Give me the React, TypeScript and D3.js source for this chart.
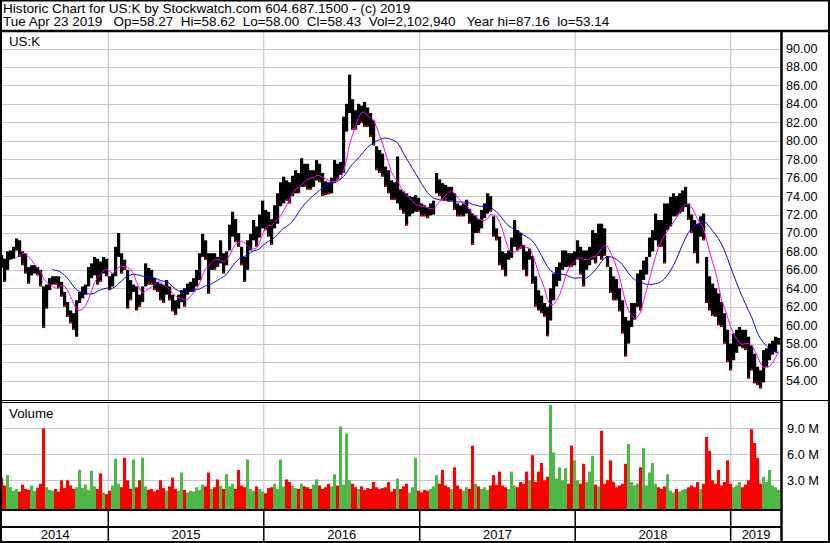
import React from "react";
import * as d3 from "d3";

// ---- data (approx. 3-px bins ≈ one trading week each) ----
const HIGH = [
  67.6, 67.2, 68.0, 68.1, 68.5, 69.4, 69.2, 68.0, 67.8, 66.3,
  66.5, 66.5, 66.3, 66.0, 64.2, 64.4, 65.1, 65.3, 65.3, 65.3,
  64.7, 63.6, 62.5, 61.6, 61.3, 62.7, 63.6, 64.2, 64.4, 66.3,
  66.7, 67.4, 67.2, 66.9, 67.4, 67.2, 65.3, 65.6, 68.5, 70.0,
  67.8, 67.1, 66.0, 64.9, 64.4, 64.2, 63.3, 64.2, 66.7, 66.2,
  66.0, 65.1, 64.7, 64.5, 64.4, 64.9, 64.2, 63.3, 62.7, 63.3,
  63.8, 64.0, 64.5, 64.7, 65.1, 66.0, 67.8, 69.9, 69.2, 67.8,
  67.8, 67.8, 67.4, 69.2, 67.8, 68.0, 70.9, 72.3, 71.5, 70.0,
  68.5, 67.4, 69.2, 69.9, 71.4, 70.7, 72.0, 73.5, 72.5, 72.3,
  71.5, 73.0, 74.3, 75.5, 76.1, 75.7, 75.5, 76.2, 76.8, 76.5,
  78.1, 77.5, 77.5, 76.8, 76.8, 77.9, 77.5, 76.5, 75.6, 75.5,
  76.0, 77.9, 77.5, 77.7, 82.6, 84.0, 87.16, 84.5, 83.3, 84.0,
  83.8, 84.2, 83.6, 83.0, 82.2, 79.4, 79.0, 78.6, 77.2, 76.8,
  75.7, 75.5, 78.3, 74.7, 74.5, 74.3, 74.0, 73.9, 74.1, 73.8,
  73.2, 73.0, 72.8, 73.2, 73.5, 76.5, 75.8, 75.4, 75.2, 75.0,
  75.0, 74.3, 73.2, 73.0, 73.2, 73.6, 72.6, 72.1, 71.9, 71.5,
  72.5, 73.2, 74.3, 74.0, 71.8, 70.5, 69.6, 68.0, 67.8, 68.1,
  69.5, 71.4, 70.3, 70.0, 68.7, 68.0, 68.3, 67.5, 65.3, 63.8,
  63.2, 62.4, 62.0, 64.0, 65.6, 66.3, 66.8, 68.1, 68.1, 67.8,
  67.8, 68.0, 69.2, 68.5, 68.1, 68.1, 68.5, 70.3, 70.0, 71.0,
  71.0, 70.5, 67.5, 66.3, 65.3, 65.0, 64.0, 62.7, 60.9, 60.5,
  62.4, 62.4, 65.6, 66.0, 67.0, 67.4, 69.5, 70.3, 72.1, 71.4,
  71.4, 73.2, 73.2, 73.9, 74.3, 74.0, 74.3, 74.6, 75.0, 73.2,
  72.0, 71.4, 71.0, 71.8, 72.1, 67.4, 65.3, 64.5, 64.0, 63.45,
  62.5, 61.3, 59.5, 58.0, 59.1, 59.5, 59.8, 59.5, 59.5, 58.75,
  57.8, 56.9, 55.5, 55.1, 57.3, 57.5, 58.0, 58.3, 58.75, 58.62,
];
const LOW = [
  66.2, 64.7, 66.0, 67.1, 67.2, 68.1, 67.4, 66.5, 65.6, 64.5,
  65.4, 65.6, 65.4, 64.2, 59.7, 61.8, 63.8, 64.4, 64.4, 64.0,
  63.1, 62.0, 60.9, 60.2, 59.5, 58.75, 62.4, 62.9, 63.3, 64.2,
  65.1, 65.4, 64.4, 64.7, 65.6, 65.3, 63.8, 64.2, 65.3, 67.4,
  65.6, 66.0, 61.8, 62.7, 63.6, 61.6, 62.0, 62.5, 64.2, 64.4,
  64.4, 63.8, 63.6, 62.7, 62.4, 63.3, 62.7, 61.5, 61.1, 61.8,
  62.5, 62.0, 63.3, 63.6, 63.6, 64.2, 64.9, 67.4, 67.1, 63.4,
  66.0, 66.0, 66.3, 66.7, 65.6, 66.5, 68.1, 69.6, 69.0, 68.5,
  66.5, 64.7, 66.0, 68.1, 69.2, 68.5, 69.5, 70.5, 70.3, 69.6,
  68.7, 70.5, 71.0, 72.9, 73.2, 73.5, 73.2, 74.0, 74.3, 74.3,
  75.0, 75.0, 74.7, 74.7, 75.0, 75.7, 75.5, 74.0, 74.1, 74.2,
  74.3, 75.4, 75.8, 76.3, 76.5, 81.0, 83.0, 81.2, 81.2, 81.7,
  81.9, 81.5, 81.5, 80.4, 79.5, 76.8, 76.5, 76.1, 75.0, 74.3,
  73.6, 73.6, 73.2, 72.5, 72.1, 70.8, 71.8, 72.1, 72.3, 72.3,
  71.8, 71.8, 71.6, 71.9, 72.0, 74.3, 74.0, 73.6, 73.6, 73.4,
  73.5, 72.5, 71.8, 71.8, 71.8, 72.1, 71.0, 68.7, 70.0, 70.0,
  70.5, 71.6, 72.1, 72.3, 69.6, 69.2, 66.5, 66.0, 65.3, 67.1,
  67.3, 68.5, 68.1, 68.3, 66.0, 65.3, 67.1, 64.5, 62.0, 61.6,
  61.3, 60.9, 58.8, 60.5, 62.7, 64.2, 64.8, 66.0, 66.3, 66.3,
  66.3, 66.5, 67.1, 65.5, 64.2, 66.0, 66.5, 67.1, 66.7, 67.5,
  67.1, 67.5, 66.3, 63.5, 62.7, 62.7, 61.5, 59.1, 56.6, 58.0,
  59.8, 60.6, 62.0, 61.6, 64.9, 65.5, 67.4, 68.0, 69.2, 68.5,
  68.5, 66.7, 70.3, 70.7, 71.8, 71.8, 72.1, 72.3, 72.8, 71.4,
  70.0, 67.8, 66.7, 69.6, 69.2, 62.4, 61.6, 61.0, 60.9, 60.0,
  59.8, 58.0, 56.0, 55.1, 56.2, 57.0, 57.7, 57.5, 57.3, 54.2,
  55.1, 53.7, 53.5, 53.14, 53.8, 55.5, 56.2, 56.8, 57.1, 57.9,
];
// volume in millions of shares
const VOLUME = [
  3.3, 2.4, 3.6, 2.2, 1.8, 2.0, 1.7, 2.5, 2.0, 1.9,
  2.4, 1.8, 2.1, 2.6, 9.0, 2.2, 1.9, 1.8, 2.0, 1.7,
  3.0, 2.1, 3.0, 2.4, 2.0, 2.2, 4.2, 2.1, 2.5, 1.9,
  4.1, 2.3, 2.0, 3.8, 1.6, 1.4, 1.8, 2.4, 5.5, 2.6,
  2.2, 5.6, 3.0, 2.0, 5.4, 2.2, 3.0, 5.6, 2.3, 1.9,
  2.0, 1.7, 1.9, 3.0, 2.1, 1.8, 2.3, 3.3, 2.0, 1.8,
  3.9, 1.9, 1.6, 1.8, 1.7, 2.2, 1.9, 2.5, 2.3, 3.9,
  2.0, 2.2, 3.1, 2.4, 2.0, 3.7, 2.3, 2.6, 2.0, 4.2,
  2.4, 2.2, 5.4, 2.0, 1.8, 2.3, 2.0, 1.7, 1.5, 2.1,
  2.2, 2.6, 2.0, 5.4, 2.3, 3.1, 2.8, 2.4, 2.1, 2.0,
  2.6, 2.3, 2.2, 2.0, 2.5, 3.1, 2.4, 2.0, 2.2, 2.6,
  2.3, 3.7, 2.4, 9.2, 2.5, 8.4, 3.0, 2.6, 2.2, 2.0,
  2.3, 1.9, 2.1, 2.0, 2.8, 2.2, 2.0, 2.1, 2.2, 2.8,
  1.7, 2.0, 3.2, 2.0, 2.3, 2.6, 1.6, 2.2, 5.6, 1.8,
  1.6, 1.9, 1.8, 2.0, 2.3, 3.6, 2.6, 4.2, 2.4, 2.2,
  2.0, 4.5, 2.4, 2.0, 1.8, 2.2, 2.0, 7.0, 2.6, 2.3,
  2.0, 2.2, 1.9, 2.4, 3.6, 2.5, 4.0, 2.4, 2.2, 2.0,
  4.0, 2.4, 2.2, 2.8, 2.6, 4.0, 3.0, 5.9, 2.8, 4.0,
  5.0, 3.0, 3.4, 11.7, 6.2, 3.2, 4.5, 3.0, 4.4, 2.6,
  7.0, 5.3, 3.0, 2.6, 4.9, 2.8, 4.0, 5.8, 2.5, 2.3,
  8.7, 2.6, 3.0, 5.3, 2.8, 2.2, 2.4, 2.6, 4.9, 7.2,
  2.8, 2.4, 2.6, 4.5, 6.7, 2.4, 3.9, 5.0, 2.6, 2.2,
  2.0, 2.3, 3.7, 1.8, 1.6, 2.0, 1.7, 1.9, 2.0, 2.2,
  2.4, 2.2, 2.8, 2.0, 2.6, 8.0, 6.4, 3.0, 2.6, 4.2,
  2.4, 2.8, 5.3, 2.6, 2.2, 2.4, 2.8, 2.2, 2.5, 3.0,
  8.9, 7.3, 5.6, 2.6, 3.4, 2.8, 4.2, 2.4, 2.2, 1.9,
];
const PRICE_TICKS = [90, 88, 86, 84, 82, 80, 78, 76, 74, 72, 70, 68, 66, 64, 62, 60, 58, 56, 54];
const VOLUME_TICKS = [3, 6, 9];
const YEARS = [2014, 2015, 2016, 2017, 2018, 2019];
const START = new Date(2014, 3, 23);
const END = new Date(2019, 3, 23);
const BIN_DAYS = 7.042;
const MA_SHORT = 6; // bins (~30 trading days)
const MA_LONG = 18; // bins (~90 trading days)
const TITLE = "Historic Chart for US:K by Stockwatch.com 604.687.1500 - (c) 2019";
const SUBTITLE = "Tue Apr 23 2019   Op=58.27  Hi=58.62  Lo=58.00  Cl=58.43  Vol=2,102,940   Year hi=87.16  lo=53.14";
const SYMBOL = "US:K";

const FONT = "'Liberation Sans', Arial, Helvetica, sans-serif";
const GRID = "#c8c8c8";
const GREEN = "#4db848";
const RED = "#ff0000";

export default function App() {
  const W = 830;
  const H = 543;
  const plotL = 2;
  const plotR = 780;
  const axisX = 781.5;
  const priceTop = 32;
  const priceBot = 400;
  const volTop = 402;
  const volBot = 509;

  const x = d3.scaleTime().domain([START, END]).range([0.52, 778.4]);
  const yP = d3.scaleLinear().domain([54, 90]).range([380.5, 48.5]);
  const yV = d3.scaleLinear().domain([0, 9]).range([506.3, 428.3]);

  const bins = HIGH.map((h, i) => {
    const date = d3.timeHour.offset(START, Math.round((i * BIN_DAYS + 2.3) * 24));
    const mid = (h + LOW[i]) / 2;
    return { i, date, hi: h, lo: LOW[i], mid, vol: VOLUME[i], cx: 0, l: 0, r: 0 };
  });
  bins.forEach((b) => (b.cx = x(b.date)));
  bins.forEach((b, i) => {
    b.l = i > 0 ? (bins[i - 1].cx + b.cx) / 2 : b.cx - 1.5;
    b.r = i < bins.length - 1 ? (b.cx + bins[i + 1].cx) / 2 : b.cx + 1.5;
  });
  const dir = bins.map((b, i) => {
    if (i === 0) return -1;
    return b.mid - bins[i - 1].mid > 0 ? 1 : -1;
  });

  const sma = (n: number) =>
    bins.map((b, i) => {
      if (i < n - 1) return null;
      const s = d3.sum(bins.slice(i - n + 1, i + 1), (d) => d.mid);
      return { date: b.date, v: s / n };
    }).filter(Boolean) as { date: Date; v: number }[];

  const line = d3
    .line<{ date: Date; v: number }>()
    .x((d) => x(d.date))
    .y((d) => yP(d.v));

  const maShort = line(sma(MA_SHORT)) || "";
  const maLong = line(sma(MA_LONG)) || "";

  const yearStarts = YEARS.map((y) => new Date(y, 0, 1));
  const yearGrid = yearStarts.slice(1).map((d) => x(d));
  const yearSegs = YEARS.map((y, i) => {
    const a = Math.max(plotL, x(yearStarts[i]));
    const b = i + 1 < YEARS.length ? x(yearStarts[i + 1]) : axisX;
    return { y, cx: (a + b) / 2 };
  });

  return (
    <svg
      width={W}
      height={H}
      viewBox={`0 0 ${W} ${H}`}
      style={{ position: "absolute", left: 0, top: 0, background: "#fff" }}
      fontFamily={FONT}
    >
      <rect x={0} y={0} width={W} height={H} fill="#fff" />

      {/* header */}
      <text x={3} y={12.5} fontSize={13.6} fill="#000">
        {TITLE}
      </text>
      <text x={3} y={26} fontSize={13.5} fill="#000" xmlSpace="preserve" style={{ whiteSpace: "pre" }}>
        {SUBTITLE}
      </text>

      {/* price grid */}
      {PRICE_TICKS.map((t) => (
        <line key={"pg" + t} x1={plotL} x2={plotR + 1} y1={Math.round(yP(t)) + 0.5} y2={Math.round(yP(t)) + 0.5} stroke={GRID} strokeWidth={1} />
      ))}
      {yearGrid.map((gx, i) => (
        <g key={"yg" + i}>
          <line x1={gx} x2={gx} y1={priceTop} y2={priceBot} stroke={GRID} strokeWidth={1.2} />
          <line x1={gx} x2={gx} y1={volTop} y2={volBot} stroke={GRID} strokeWidth={1.2} />
        </g>
      ))}
      {VOLUME_TICKS.map((t) => (
        <line key={"vg" + t} x1={plotL} x2={plotR + 1} y1={Math.round(yV(t)) + 0.5} y2={Math.round(yV(t)) + 0.5} stroke={GRID} strokeWidth={1} />
      ))}

      {/* price bars */}
      <g>
        {bins.map((b) => {
          const y1 = yP(b.hi);
          const y2 = yP(b.lo);
          return <rect key={"pb" + b.i} x={b.l} y={y1} width={b.r - b.l + 0.2} height={Math.max(1, y2 - y1)} fill="#000" />;
        })}
        {bins.map((b, i) => {
          if (dir[i] > 0) return null;
          const yy = yP(b.lo) - 2;
          return <rect key={"rd" + b.i} x={b.cx - 0.5} y={yy} width={1.6} height={2} fill={RED} />;
        })}
      </g>

      {/* moving averages */}
      <path d={maLong} fill="none" stroke="#0000ff" strokeWidth={1} />
      <path d={maShort} fill="none" stroke="#ff00ff" strokeWidth={1} />

      {/* volume bars */}
      <g>
        {bins.map((b, i) => {
          const yy = yV(b.vol);
          const c = dir[i] > 0 ? GREEN : RED;
          return <rect key={"vb" + b.i} x={b.l} y={yy} width={b.r - b.l + 0.1} height={volBot - yy} fill={c} />;
        })}
      </g>

      {/* labels inside panels */}
      <text x={9} y={46} fontSize={13.3} fill="#000">
        {SYMBOL}
      </text>
      <text x={9} y={418} fontSize={13.3} fill="#000">
        Volume
      </text>

      {/* right axis labels */}
      {PRICE_TICKS.map((t) => (
        <text key={"pl" + t} x={786} y={yP(t)} dy="0.36em" fontSize={12.6} fill="#000">
          {t.toFixed(2)}
        </text>
      ))}
      {VOLUME_TICKS.map((t) => (
        <text key={"vl" + t} x={787} y={yV(t)} dy="0.36em" fontSize={12.8} fill="#000">
          {t.toFixed(1) + " M"}
        </text>
      ))}

      {/* frame lines */}
      <line x1={0} x2={W} y1={31} y2={31} stroke="#000" strokeWidth={2.5} />
      <line x1={0} x2={axisX} y1={400.5} y2={400.5} stroke="#000" strokeWidth={1} />
      <line x1={0} x2={axisX} y1={402.5} y2={402.5} stroke="#000" strokeWidth={1} />
      <line x1={axisX} x2={W} y1={400.5} y2={400.5} stroke="#000" strokeWidth={1} />
      <line x1={0} x2={axisX} y1={510} y2={510} stroke="#000" strokeWidth={2} />
      <line x1={0} x2={axisX} y1={527} y2={527} stroke="#000" strokeWidth={2} />
      {yearGrid.map((gx, i) => (
        <line key={"ys" + i} x1={gx} x2={gx} y1={510} y2={542} stroke="#000" strokeWidth={1.5} />
      ))}
      <line x1={axisX} x2={axisX} y1={31} y2={H} stroke="#000" strokeWidth={2.5} />
      <rect x={1} y={0.5} width={W - 2} height={H - 1.5} fill="none" stroke="#000" strokeWidth={2} />

      {/* year labels */}
      {yearSegs.map((s) => (
        <text key={"yl" + s.y} x={s.cx} y={539} fontSize={13} textAnchor="middle" fill="#000">
          {s.y}
        </text>
      ))}
    </svg>
  );
}
